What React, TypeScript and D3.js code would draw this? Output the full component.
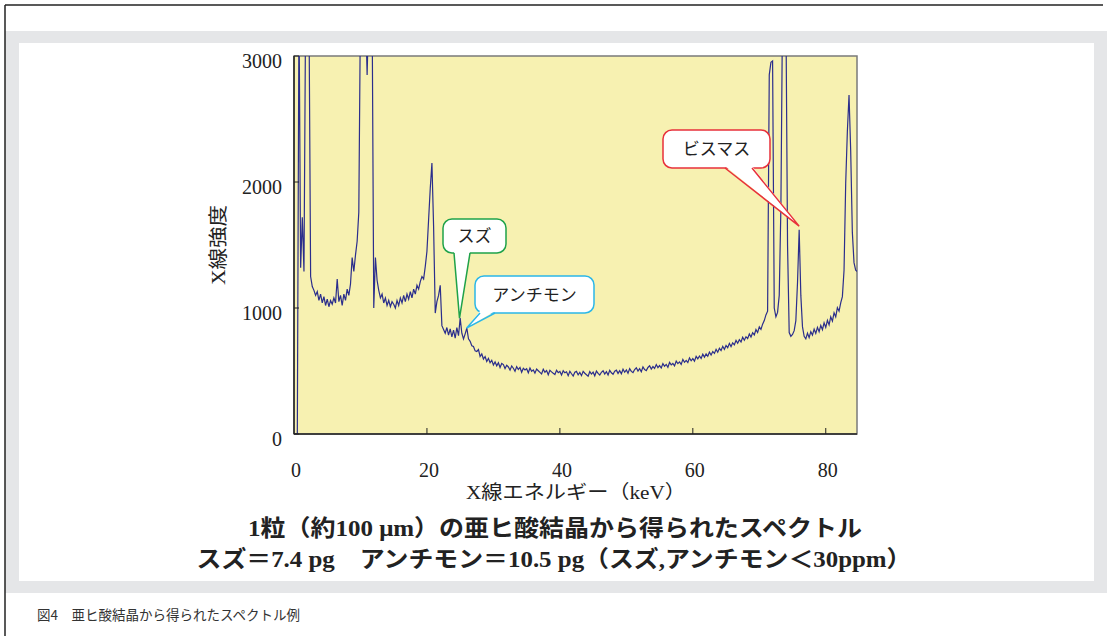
import React from "react";
import * as d3 from "d3";

// spectrum: channel calibration (keV) and counts
const energyStart = 0;
const energyStep = 0.25;
const counts = [
  0, 0, 0, 3400, 1320, 1720, 1290, 3400, 3400, 3400, 1250, 1170, 1140, 1100, 1130, 1060, 1110, 1040, 1090, 1020,
  1070, 1010, 1060, 1030, 1080, 1040, 1230, 1050, 1100, 1020, 1110, 1060, 1150, 1100, 1190, 1400, 1290, 1420, 1530, 1760,
  3400, 3400, 3400, 3400, 2850, 3400, 3400, 3400, 1000, 1400, 1220, 1140, 1080, 1110, 1040, 1080, 1020, 1060, 1010, 1050,
  1030, 1000, 1060, 1020, 1080, 1040, 1100, 1050, 1110, 1070, 1130, 1080, 1150, 1110, 1180, 1150, 1210, 1250, 1230, 1330,
  1450, 1700, 1950, 2150, 1650, 960, 1050, 1100, 1180, 860, 830, 800, 845, 785, 835, 770, 825, 760, 845, 780,
  920, 800, 755, 795, 840, 755, 735, 700, 695, 660, 655, 670, 615, 635, 595, 615, 575, 600, 565, 585,
  548, 572, 541, 566, 528, 560, 551, 520, 546, 532, 507, 540, 522, 498, 535, 512, 528, 490, 521, 508,
  518, 486, 524, 497, 509, 483, 515, 502, 489, 476, 514, 490, 503, 470, 505, 493, 482, 472, 506, 487,
  496, 468, 502, 486, 494, 463, 498, 478, 460, 490, 497, 469, 488, 463, 497, 482, 470, 458, 495, 476,
  491, 462, 499, 481, 468, 490, 502, 476, 494, 468, 505, 486, 474, 499, 507, 481, 503, 478, 514, 490,
  508, 482, 519, 497, 488, 512, 526, 500, 519, 494, 533, 512, 503, 528, 541, 515, 535, 520, 551, 527,
  543, 524, 559, 538, 552, 530, 568, 548, 560, 541, 578, 559, 572, 553, 592, 569, 584, 567, 604, 581,
  598, 578, 616, 596, 619, 600, 633, 610, 636, 617, 650, 627, 655, 640, 672, 649, 680, 662, 696, 672,
  703, 684, 719, 694, 724, 708, 743, 720, 748, 731, 768, 744, 772, 757, 794, 770, 804, 786, 829, 806,
  850, 830, 872, 900, 945, 975, 2850, 2950, 2960, 1000, 930, 965, 1100, 1800, 3400, 3400, 3400, 1500, 805, 775,
  790, 820, 900, 1200, 1620, 1100, 850, 775, 755, 800, 765, 812, 785, 832, 798, 846, 812, 862, 828, 882,
  846, 902, 866, 930, 896, 962, 930, 1002, 975, 1040, 1090, 1300, 1990, 2400, 2690, 2250, 1600, 1360, 1300, 1290,
];

const xTicks = [0, 20, 40, 60, 80];
const yTicks = [0, 1000, 2000, 3000];

// callouts: label, colour, tip in data units (keV, counts)
const calloutLabels = ["スズ", "アンチモン", "ビスマス"];
const calloutColors = ["#1fa24a", "#2bb7e8", "#e8313b"];
const calloutTips = [
  [24.9, 920],
  [25.95, 840],
  [76.0, 1650],
];

const titleLines = [
  "1粒（約100 μm）の亜ヒ酸結晶から得られたスペクトル",
  "スズ＝7.4 pg　アンチモン＝10.5 pg（スズ,アンチモン＜30ppm）",
];
const caption = "図4　亜ヒ酸結晶から得られたスペクトル例";

const W = 1107;
const H = 636;
const plot = { left: 294, right: 857, top: 56, bottom: 434 };

// callout box geometry in pixels: box + tail base span
const calloutBoxes = [
  { x: 443, y: 219, w: 63, h: 34, b0: 454, b1: 470 },
  { x: 475, y: 276, w: 119, h: 37, b0: 480, b1: 495 },
  { x: 663, y: 130, w: 107, h: 38, b0: 725, b1: 752 },
];

const serif = "'Liberation Serif', 'Times New Roman', 'Noto Sans CJK JP', serif";
const sans = "'Noto Sans CJK JP', 'Noto Sans', sans-serif";

export default function App() {
  const x = d3.scaleLinear().domain([0, 84.7]).range([plot.left, plot.right]);
  const y = d3.scaleLinear().domain([0, 3000]).range([plot.bottom, plot.top]);

  const points = counts.map((c, i) => [energyStart + i * energyStep, c]);
  const line = d3
    .line()
    .x((d) => x(d[0]))
    .y((d) => y(d[1]));

  return (
    <svg
      width={W}
      height={H}
      style={{ position: "absolute", left: 0, top: 0, background: "#fff" }}
    >
      <defs>
        <clipPath id="plotClip">
          <rect
            x={plot.left}
            y={plot.top}
            width={plot.right - plot.left}
            height={plot.bottom - plot.top}
          />
        </clipPath>
      </defs>

      {/* page frame */}
      <rect x={5} y={31} width={W - 5} height={562} fill="#e5e6e8" />
      <rect x={19} y={43} width={1075} height={538} fill="#fff" />
      <line x1={5} y1={5} x2={1103} y2={5} stroke="#222" strokeWidth={1.5} />
      <line x1={5} y1={5} x2={5} y2={H} stroke="#222" strokeWidth={1.5} />

      {/* plot area */}
      <rect
        x={plot.left}
        y={plot.top}
        width={plot.right - plot.left}
        height={plot.bottom - plot.top}
        fill="#f7f1b1"
        stroke="#7a7a7a"
        strokeWidth={1.5}
      />

      <path
        d={line(points)}
        fill="none"
        stroke="#2b2e8c"
        strokeWidth={1.2}
        clipPath="url(#plotClip)"
      />

      {/* axes */}
      <line x1={plot.left} y1={plot.top} x2={plot.left} y2={plot.bottom} stroke="#222" strokeWidth={1.5} />
      <line x1={plot.left} y1={plot.bottom} x2={plot.right} y2={plot.bottom} stroke="#222" strokeWidth={1.5} />
      {yTicks.map((t) => (
        <g key={"y" + t}>
          <line x1={plot.left} x2={plot.left + 5} y1={y(t)} y2={y(t)} stroke="#222" strokeWidth={1} />
          <text
            x={plot.left - 12}
            y={y(t) + 12}
            textAnchor="end"
            fontFamily={serif}
            fontSize={20}
            fill="#222"
          >
            {t}
          </text>
        </g>
      ))}
      {xTicks.map((t) => (
        <g key={"x" + t}>
          {t > 0 && (
            <line x1={x(t)} x2={x(t)} y1={plot.bottom} y2={plot.bottom - 6} stroke="#222" strokeWidth={1} />
          )}
          <text
            x={x(t) + 2}
            y={477}
            textAnchor="middle"
            fontFamily={serif}
            fontSize={20}
            fill="#222"
          >
            {t}
          </text>
        </g>
      ))}

      <text
        x={576}
        y={499}
        textAnchor="middle"
        fontFamily={serif}
        fontSize={19}
        fill="#222"
        textLength={220}
        lengthAdjust="spacingAndGlyphs"
      >
        X線エネルギー（keV）
      </text>
      <text
        transform="translate(225,245) rotate(-90)"
        textAnchor="middle"
        fontFamily={serif}
        fontSize={19}
        fill="#222"
        textLength={80}
        lengthAdjust="spacingAndGlyphs"
      >
        X線強度
      </text>

      {/* callouts */}
      {calloutLabels.map((label, i) => {
        const b = calloutBoxes[i];
        const tx = x(calloutTips[i][0]);
        const ty = y(calloutTips[i][1]);
        const by = b.y + b.h;
        const col = calloutColors[i];
        return (
          <g key={label}>
            <rect x={b.x} y={b.y} width={b.w} height={b.h} rx={9} fill="#fff" stroke={col} strokeWidth={1.5} />
            <polygon points={`${b.b0},${by - 2} ${tx},${ty} ${b.b1},${by - 2}`} fill="#fff" />
            <polyline
              points={`${b.b0},${by} ${tx},${ty} ${b.b1},${by}`}
              fill="none"
              stroke={col}
              strokeWidth={1.5}
              strokeLinejoin="miter"
            />
            <text
              x={b.x + b.w / 2}
              y={b.y + b.h / 2 + 6}
              textAnchor="middle"
              fontFamily={sans}
              fontSize={17}
              fill="#222"
            >
              {label}
            </text>
          </g>
        );
      })}

      {/* title */}
      <text
        x={555}
        y={536}
        textAnchor="middle"
        fontFamily={serif}
        fontWeight="bold"
        fontSize={23}
        fill="#222"
        textLength={614}
        lengthAdjust="spacingAndGlyphs"
      >
        {titleLines[0]}
      </text>
      <text
        x={554}
        y={567}
        textAnchor="middle"
        fontFamily={serif}
        fontWeight="bold"
        fontSize={23}
        fill="#222"
        textLength={715}
        lengthAdjust="spacingAndGlyphs"
      >
        {titleLines[1]}
      </text>

      <text x={37} y={620} fontFamily={sans} fontSize={13.5} fill="#333">
        {caption}
      </text>
    </svg>
  );
}
